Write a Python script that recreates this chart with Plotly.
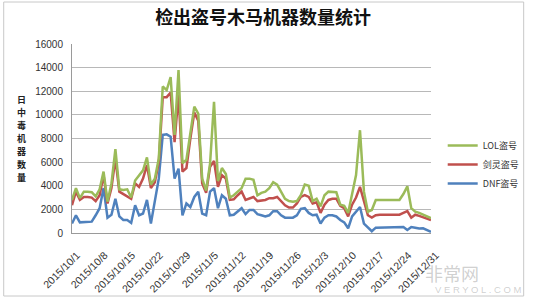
import pandas as pd
import plotly.graph_objects as go

TITLE = "检出盗号木马机器数量统计"
Y_LABEL = "日中毒机器数量"
SERIES_NAMES = ["LOL盗号", "剑灵盗号", "DNF盗号"]

dates = pd.date_range("2015-10-01", "2015-12-31", freq="D")

TICK_LABELS = ["2015/10/1", "2015/10/8", "2015/10/15", "2015/10/22", "2015/10/29",
               "2015/11/5", "2015/11/12", "2015/11/19", "2015/11/26", "2015/12/3",
               "2015/12/10", "2015/12/17", "2015/12/24", "2015/12/31"]

lol = [2800, 3800, 2950, 3500, 3500, 3450, 3100, 3700, 5200, 2650,
       4200, 7100, 3700, 3650, 3700, 3000, 4450, 4900, 5300, 6400,
       4100, 4600, 6300, 12400, 12100, 13200, 8300, 13800, 5900, 6200,
       8500, 10700, 10100, 4600, 3600, 5900, 11100, 4400, 5500, 5000,
       3000, 3200, 3500, 3800, 4600, 4600, 4500, 3200, 3400, 3500,
       3800, 4300, 4100, 3500, 2900, 2700, 2650, 2700, 3200, 4100,
       4000, 2700, 2900, 2250, 3200, 3500, 3500, 3450, 2400, 2300,
       1700, 3200, 4900, 8700, 3500, 1800, 1950, 2800, 2800, 2800,
       2800, 2800, 2800, 2800, 3300, 3950, 2100, 1800, 1700, 1550,
       1400, 1250]

jianling = [2350, 3500, 2800, 3050, 3050, 3000, 2700, 3200, 4900, 2500,
            3800, 6300, 3500, 3300, 3100, 2900, 4200, 3900, 4600, 5750,
            3800, 4300, 6000, 11500, 11500, 11900, 7700, 11800, 5200, 5500,
            8000, 10200, 9500, 4200, 3400, 5600, 6100, 3900, 4900, 4600,
            2800, 2850, 3200, 3500, 2800, 2900, 3050, 2700, 2750, 2800,
            2950, 2950, 3050, 2700, 2350, 2150, 2150, 2500, 3050, 3200,
            3050, 2500, 2600, 1700, 2400, 2800, 2900, 2900, 2300, 2100,
            1400, 2400, 3000, 3900, 2600, 1500, 1300, 1500, 1550, 1550,
            1550, 1550, 1550, 1550, 1700, 1850, 1300, 1550, 1450, 1350,
            1200, 1100]

dnf = [800, 1500, 900, 900, 920, 960, 1500, 2100, 3800, 1300,
       1550, 2900, 1400, 1100, 1100, 850, 2350, 1500, 1650, 2800,
       800, 2600, 4600, 8300, 8350, 8150, 4600, 5450, 1500, 2500,
       2200, 3050, 3500, 1650, 1500, 3500, 3800, 2100, 3200, 2900,
       1500, 1550, 1800, 2100, 1600, 1950, 1950, 1600, 1500, 1400,
       1500, 1850, 1850, 1500, 1300, 1300, 1300, 1500, 2050, 2100,
       1700, 1500, 1550, 800, 1300, 1500, 1500, 1400, 1100, 900,
       400, 1400, 1800, 2200, 800, 500, 150, 450, 450, 450,
       450, 450, 450, 450, 500, 250, 500, 450, 380, 400,
       250, 100]

COLORS = {"LOL盗号": "#9BBB59", "剑灵盗号": "#C0504D", "DNF盗号": "#4F81BD"}
VALUES = {"LOL盗号": lol, "剑灵盗号": jianling, "DNF盗号": dnf}

fig = go.Figure()
for name in reversed(SERIES_NAMES):
    fig.add_trace(go.Scatter(
        x=dates, y=VALUES[name], mode="lines", name=name,
        line=dict(color=COLORS[name], width=2.5),
    ))

# plot area in pixels: x 72..440, y 44..233
L, R, T, B = 72, 440, 44, 233
W, H = R - L, B - T

fig.update_layout(
    width=537, height=299,
    margin=dict(l=L, r=537 - R, t=T, b=299 - B),
    paper_bgcolor="white", plot_bgcolor="white",
    font=dict(family="Liberation Sans, Arial, Noto Sans CJK SC", size=10, color="#333333"),
    title=dict(text="<b>" + TITLE + "</b>", x=0.49, xanchor="center", y=0.94, yanchor="middle",
               font=dict(family="Noto Sans CJK SC", size=18, color="#111111")),
    showlegend=True,
    legend=dict(x=(452 - L) / W, xanchor="left", y=(B - 131) / H, yanchor="top",
                traceorder="reversed", bgcolor="rgba(0,0,0,0)",
                font=dict(family="Noto Sans CJK SC, Liberation Sans", size=9, color="#333333"),
                itemwidth=30, tracegroupgap=2),
    xaxis=dict(
        range=[dates[0], dates[-1]],
        tickvals=list(dates[::7]), ticktext=TICK_LABELS,
        tickangle=-45, showgrid=False, zeroline=False,
        showline=True, linecolor="#9a9a9a", linewidth=1,
        tickfont=dict(family="Liberation Sans, Arial", size=10.5, color="#333333"),
        ticks="", ticklabelstandoff=11, ticklabelshift=5, automargin=False,
    ),
    yaxis=dict(
        range=[0, 16000], dtick=2000, tickformat="d",
        showgrid=True, gridcolor="#b8b8b8", gridwidth=1.2,
        zeroline=False, showline=True, linecolor="#9a9a9a", linewidth=1,
        tickfont=dict(family="Liberation Sans, Arial", size=10, color="#333333"),
        ticks="", ticklabelstandoff=6, automargin=False,
    ),
)

# vertical y-axis title, stacked characters
cy = 138
pitch = 13
n = len(Y_LABEL)
for k, ch in enumerate(Y_LABEL):
    ypx = cy + (k - (n - 1) / 2) * pitch
    fig.add_annotation(text="<b>" + ch + "</b>", xref="paper", yref="paper",
                       x=(20 - L) / W, y=(B - ypx) / H, showarrow=False,
                       xanchor="center", yanchor="middle", borderpad=0,
                       font=dict(family="Noto Sans CJK SC", size=9, color="#222222"))

# watermark
fig.add_annotation(text="非常网", xref="paper", yref="paper",
                   x=(462 - L) / W, y=(B - 273) / H, showarrow=False,
                   xanchor="center", yanchor="middle", borderpad=0,
                   font=dict(family="Noto Sans CJK SC", size=18, color="rgba(150,150,150,0.45)"))
fig.add_annotation(text="V E R Y O L . C O M", xref="paper", yref="paper",
                   x=(488 - L) / W, y=(B - 289) / H, showarrow=False,
                   xanchor="center", yanchor="middle", borderpad=0,
                   font=dict(family="Liberation Sans", size=9.5, color="rgba(150,150,150,0.45)"))

# outer chart frame
fig.add_shape(type="rect", xref="paper", yref="paper",
              x0=(2 - L) / W, x1=(535 - L) / W, y0=(B - 296) / H, y1=(B - 2) / H,
              line=dict(color="#c8c8c8", width=1), fillcolor="rgba(0,0,0,0)", layer="below")

fig.write_html("out.html")
